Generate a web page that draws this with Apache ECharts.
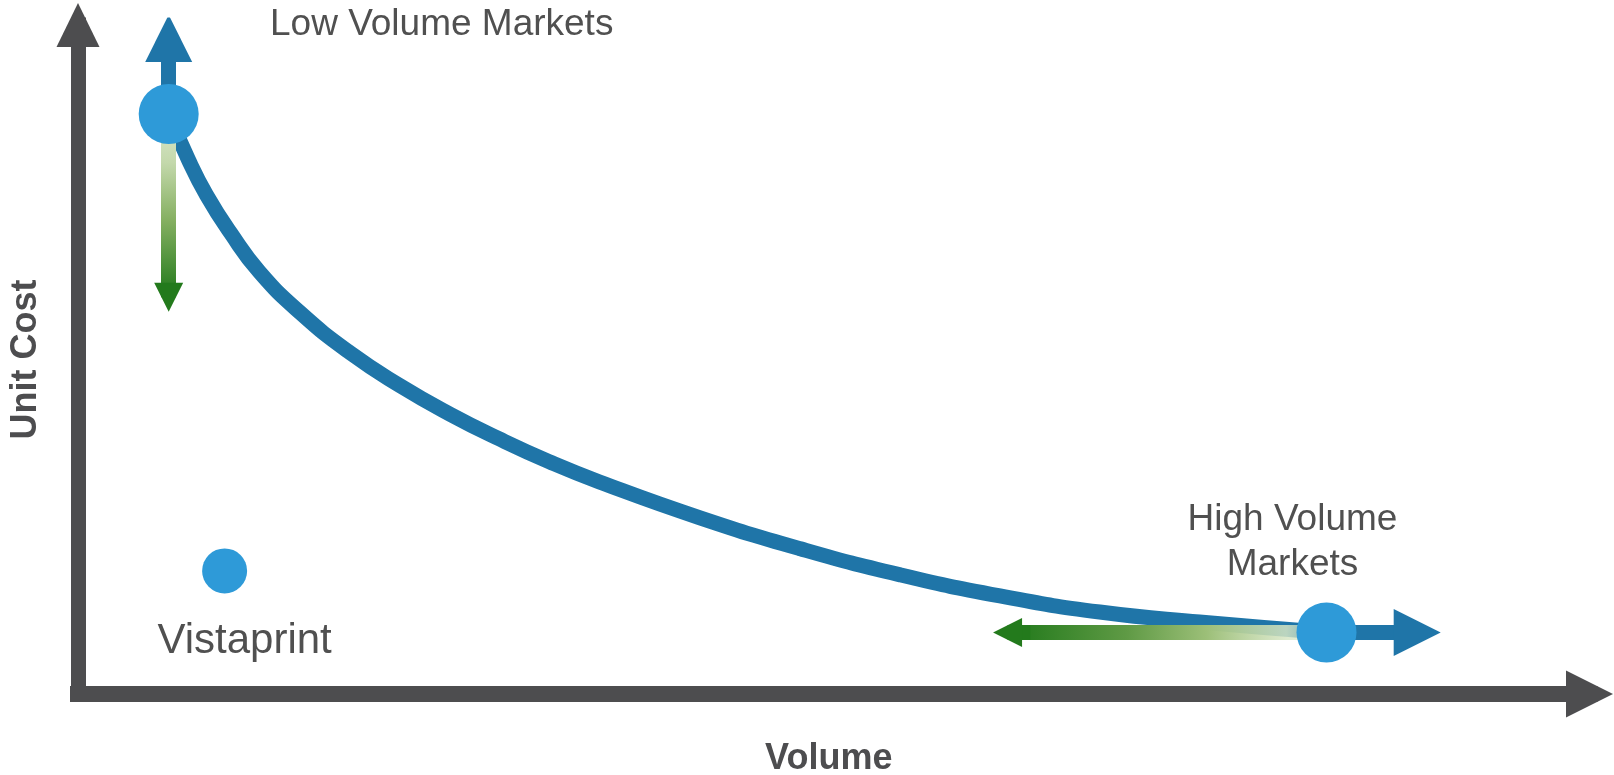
<!DOCTYPE html>
<html>
<head>
<meta charset="utf-8">
<script src="https://cdn.jsdelivr.net/npm/echarts@6/dist/echarts.min.js"></script>
<style>
  html, body { margin: 0; padding: 0; background: #ffffff; }
  #chart { width: 1614px; height: 775px; }
</style>
</head>
<body>
<div id="chart"></div>
<script>
// ---- data (axis units 0..100) ----
const curveVolume = [6.0, 7.3, 8.5, 10.1, 12.0, 14.7, 18.0, 21.3, 24.6, 27.9, 31.2, 34.5, 41.2, 47.8, 54.4, 61.0, 67.6, 74.2, 82.6];
const curveCost   = [86.7, 79.9, 74.6, 68.9, 63.1, 57.0, 51.0, 46.1, 41.85, 38.1, 34.7, 31.7, 26.3, 21.7, 17.8, 14.65, 12.25, 10.75, 9.2];

const marketNames  = ['Low Volume Markets', 'High Volume\nMarkets'];
const marketVolume = [6.0, 82.6];
const marketCost   = [86.7, 9.2];

const companyName   = ['Vistaprint'];
const companyVolume = [9.7];
const companyCost   = [18.4];

// arrow end values (blue = market direction, green = alternative direction)
const lowCostUp      = 98.0;  // blue arrow from low-volume market
const lowCostDown    = 59.3;  // green arrow from low-volume market
const highVolumeUp   = 88.6;  // blue arrow from high-volume market
const highVolumeDown = 61.5;  // green arrow from high-volume market

const xAxisName = 'Volume';
const yAxisName = 'Unit Cost';

// ---- styles ----
const BLUE = '#1f75a8';
const DOT = '#2e9ad8';
const GREEN = '#237a1c';
const AXIS = '#4d4d4f';
const TEXT = '#505050';
const FONT = '"Liberation Sans", Arial, Helvetica, sans-serif';

const chart = echarts.init(document.getElementById('chart'), null, { renderer: 'canvas' });

const curveData = curveVolume.map((v, i) => [v, curveCost[i]]);

const option = {
  animation: false,
  backgroundColor: '#ffffff',
  grid: { left: 78, right: 24.5, top: 25, bottom: 81, containLabel: false, outerBoundsMode: 'none' },
  xAxis: {
    type: 'value', min: 0, max: 100,
    splitLine: { show: false }, axisTick: { show: false }, axisLabel: { show: false },
    axisLine: {
      show: true, onZero: false,
      symbol: ['none', 'triangle'], symbolSize: [47, 47],
      lineStyle: { color: AXIS, width: 16, cap: 'square', opacity: 1 }
    },
    name: xAxisName, nameLocation: 'middle', nameGap: 47,
    nameTextStyle: { fontSize: 36, fontWeight: 'bold', color: AXIS, fontFamily: FONT, padding: [0, 10, 0, 0] }
  },
  yAxis: {
    type: 'value', min: 0, max: 100,
    splitLine: { show: false }, axisTick: { show: false }, axisLabel: { show: false },
    axisLine: {
      show: true, onZero: false,
      symbol: ['none', 'triangle'], symbolSize: [43, 44],
      lineStyle: { color: AXIS, width: 15, cap: 'square', opacity: 1 }
    },
    name: yAxisName, nameLocation: 'middle', nameGap: 34, nameRotate: 90,
    nameTextStyle: { fontSize: 36, fontWeight: 'bold', color: AXIS, fontFamily: FONT }
  },
  series: [
    {
      name: 'cost curve', type: 'line', data: curveData, smooth: 0.5,
      showSymbol: false, symbol: 'none', z: 2,
      lineStyle: { color: BLUE, width: 15, cap: 'butt', join: 'round' }
    },
    {
      name: 'market arrows', type: 'lines', coordinateSystem: 'cartesian2d', z: 3,
      symbol: ['none', 'triangle'], symbolSize: [48, 47],
      lineStyle: { color: BLUE, width: 15, opacity: 1, curveness: 0 },
      data: [
        { coords: [[marketVolume[0], marketCost[0]], [marketVolume[0], lowCostUp]] },
        { coords: [[marketVolume[1], marketCost[1]], [highVolumeUp, marketCost[1]]] }
      ]
    },
    {
      name: 'alt shafts', type: 'lines', coordinateSystem: 'cartesian2d', z: 4,
      symbol: 'none',
      data: [
        {
          coords: [[marketVolume[0], marketCost[0]], [marketVolume[0], lowCostDown + 1.5]],
          lineStyle: {
            width: 15, opacity: 1,
            color: new echarts.graphic.LinearGradient(0, 0, 0, 1, [
              { offset: 0, color: '#e2ecd6' },
              { offset: 0.3, color: '#c3d8ab' },
              { offset: 0.6, color: '#86b062' },
              { offset: 1, color: GREEN }
            ])
          }
        },
        {
          coords: [[marketVolume[1], marketCost[1]], [highVolumeDown + 1, marketCost[1]]],
          lineStyle: {
            width: 15, opacity: 1,
            color: new echarts.graphic.LinearGradient(0, 0, 1, 0, [
              { offset: 0, color: GREEN },
              { offset: 0.35, color: '#5f9a45' },
              { offset: 0.6, color: '#9cbf78' },
              { offset: 0.85, color: 'rgba(214,229,196,0.85)' },
              { offset: 1, color: 'rgba(214,229,196,0.35)' }
            ])
          }
        }
      ]
    },
    {
      name: 'alt heads', type: 'lines', coordinateSystem: 'cartesian2d', z: 4,
      symbol: ['none', 'triangle'], symbolSize: [31, 29],
      lineStyle: { color: GREEN, width: 15, opacity: 1 },
      data: [
        { coords: [[marketVolume[0], lowCostDown + 2], [marketVolume[0], lowCostDown]] },
        { coords: [[highVolumeDown + 1.5, marketCost[1]], [highVolumeDown, marketCost[1]]] }
      ]
    },
    {
      name: 'markets', type: 'scatter', z: 5,
      symbolSize: 60,
      itemStyle: { color: DOT, opacity: 1 },
      data: marketNames.map((n, i) => ({
        name: n, value: [marketVolume[i], marketCost[i]],
        label: i === 0
          ? { show: true, position: 'inside', offset: [273, -89], formatter: '{b}', align: 'center', verticalAlign: 'middle',
              fontSize: 37, color: TEXT, fontFamily: FONT }
          : { show: true, position: 'inside', offset: [-34, -90], formatter: '{b}', align: 'center', verticalAlign: 'middle',
              fontSize: 37, lineHeight: 45, color: TEXT, fontFamily: FONT }
      }))
    },
    {
      name: 'company', type: 'scatter', z: 5,
      symbolSize: 45,
      itemStyle: { color: DOT, opacity: 1 },
      data: companyName.map((n, i) => ({
        name: n, value: [companyVolume[i], companyCost[i]],
        label: { show: true, position: 'inside', offset: [20, 71], formatter: '{b}', align: 'center', verticalAlign: 'middle',
                 fontSize: 42, color: TEXT, fontFamily: FONT }
      }))
    }
  ]
};

chart.setOption(option);
</script>
</body>
</html>
